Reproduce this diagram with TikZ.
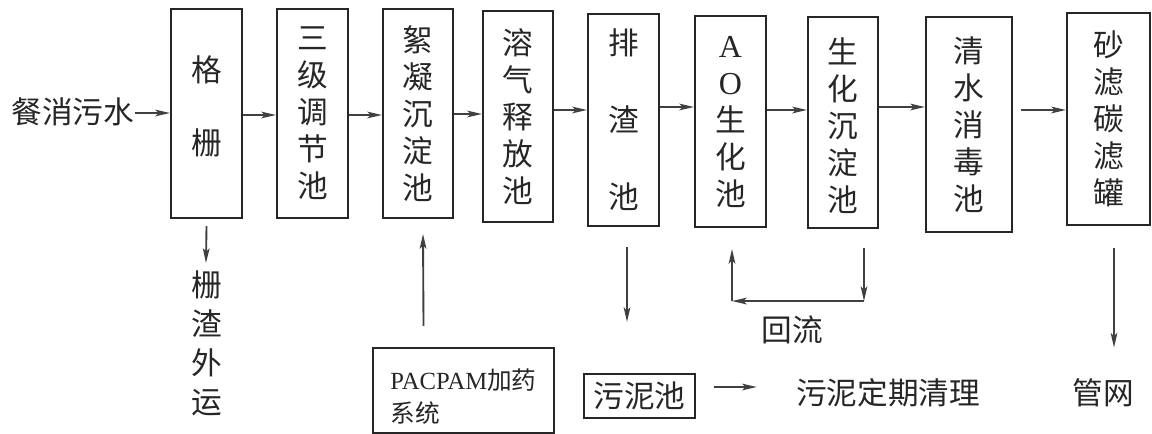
\documentclass[tikz,border=0pt]{standalone}
\usepackage{fontspec}
\newfontfamily\cjk{Noto Sans CJK SC}
\newfontfamily\tms{Liberation Serif}
\usetikzlibrary{arrows.meta,calc}
\tikzset{
  stage/.style={draw=black!85, line width=1.6pt, inner sep=0pt, align=center,
    font=\cjk\fontsize{23}{27.75}\selectfont, text=black!85},
  lbl/.style={inner sep=0pt, align=center, font=\cjk\fontsize{23}{27.75}\selectfont, text=black!85},
  arr/.style={draw=black!75, line width=1.4pt, -{Stealth[length=11pt,width=5pt,inset=2.5pt]}},
}
\begin{document}
\begin{tikzpicture}[x=0.75pt,y=-0.75pt]
\useasboundingbox (0,0) rectangle (1152,434);

% main stages
\node[stage, minimum width=53.25pt, minimum height=156.75pt] (grid) at (206.5,113.5) {格\\[27pt]栅\rule[-13pt]{0pt}{0pt}};
\node[stage, minimum width=53.25pt, minimum height=156.75pt] (tiaojie) at (312.5,113.5) {三\\级\\调\\节\\池};
\node[stage, minimum width=52.5pt, minimum height=156.75pt] (xuning) at (418,113.5) {絮\\凝\\沉\\淀\\池};
\node[stage, minimum width=52.5pt, minimum height=158.25pt] (rongqi) at (518,116.5) {溶\\气\\释\\放\\池};
\node[stage, minimum width=53.25pt, minimum height=159pt] (paizha) at (623.5,120) {排\\[30pt]渣\\[30pt]池};
\node[stage, minimum width=53.25pt, minimum height=158.25pt] (ao) at (730.5,121.5)
  {{\tms\fontsize{24}{24}\selectfont A}\\{\tms\fontsize{24}{24}\selectfont O}\\生\\化\\池};
\node[stage, minimum width=52.5pt, minimum height=158.25pt] (shengchen) at (843,122.5) {\rule{0pt}{24pt}生\\化\\沉\\淀\\池};
\node[stage, minimum width=64.5pt, minimum height=161.25pt] (qingshui) at (969,124.5) {清\\水\\消\\毒\\池};
\node[stage, minimum width=62.25pt, minimum height=159pt] (shalv) at (1108.5,119) {砂\\滤\\碳\\滤\\罐};

% inlet
\node[lbl] (src) at (73,112) {餐消污水};

% bottom items
\node[lbl, font=\cjk\fontsize{23}{29.25}\selectfont] (gridout) at (207,343) {栅\\渣\\外\\运};
\node[stage, align=left, minimum width=135.75pt, minimum height=63.75pt,
  font=\cjk\fontsize{18.5}{24.75}\selectfont] (pac) at (463.5,390.5) {\rule{0pt}{25pt}{\tms PACPAM}加药\\系统};
\node[stage, minimum width=83.25pt, minimum height=33pt] (sludge) at (639.5,396) {污泥池};
\node[lbl] (clean) at (888,393) {污泥定期清理};
\node[lbl] (reflux) at (792,330) {回流};
\node[lbl] (net) at (1103,393) {管网};

% main flow arrows
\draw[arr] (src.east |- 0,113) -- (grid.west |- 0,113);
\draw[arr] (grid.east |- 0,115) -- (tiaojie.west |- 0,115);
\draw[arr] (tiaojie.east |- 0,115) -- (xuning.west |- 0,115);
\draw[arr] (xuning.east |- 0,114) -- (rongqi.west |- 0,114);
\draw[arr] (rongqi.east |- 0,110) -- (paizha.west |- 0,110);
\draw[arr] (paizha.east |- 0,107) -- (ao.west |- 0,107);
\draw[arr] (ao.east |- 0,110) -- (shengchen.west |- 0,110);
\draw[arr] (shengchen.east |- 0,107) -- (qingshui.west |- 0,107);
\draw[arr] ($(qingshui.east |- 0,110)+(8,0)$) -- (shalv.west |- 0,110);

% side arrows
\draw[arr] ($(grid.south)+(0,7)$) -- ($(gridout.north)+(-1,-7)$);
\draw[arr] ($(pac.north)+(-40,-21)$) -- ($(xuning.south)+(5,15)$);
\draw[arr] ($(paizha.south)+(3.5,20)$) -- ($(sludge.north)+(-12.5,-51)$);
\draw[arr] ($(sludge.east)+(18,-9)$) -- ($(clean.west)+(-39,-6)$);
\draw[arr] ($(shalv.south)+(5.5,22)$) -- ($(net.north)+(11,-31)$);

% recycle
\coordinate (rb) at ($(shengchen.south)+(21,72)$);
\coordinate (lb) at ($(ao.south)+(1.5,73)$);
\draw[arr] ($(shengchen.south)+(21,19)$) -- (rb);
\draw[arr] (rb) -- (lb);
\draw[arr] (lb) -- ($(ao.south)+(1.5,21)$);
\end{tikzpicture}
\end{document}
